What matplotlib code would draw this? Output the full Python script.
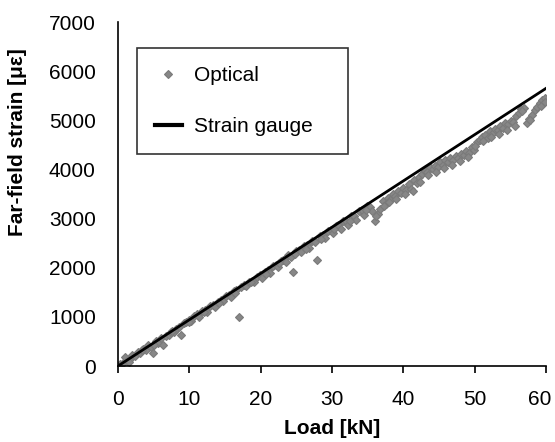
import matplotlib
matplotlib.use('Agg')
import matplotlib.pyplot as plt
from matplotlib.transforms import ScaledTranslation

plt.rcParams['font.family'] = ['Liberation Sans', 'DejaVu Sans']

optical_load = [
    0.3, 0.7, 1.0, 1.3, 1.7, 2.0, 2.4, 2.8, 3.1, 3.5, 3.9, 4.2, 4.6, 4.9, 5.3,
    5.6, 6.0, 6.3, 6.7, 7.1, 7.4, 7.8, 8.2, 8.5, 8.9, 9.2, 9.6, 10.0, 10.3, 10.7,
    11.1, 11.4, 11.8, 12.2, 12.5, 12.9, 13.3, 13.6, 14.0, 14.4, 14.7, 15.1, 15.5,
    15.8, 16.2, 16.6, 16.9, 17.3, 17.7, 18.0, 18.4, 18.8, 19.1, 19.5, 19.9, 20.2,
    20.6, 21.0, 21.3, 21.7, 22.1, 22.4, 22.8, 23.2, 23.5, 23.9, 24.3, 24.6, 25.0,
    25.4, 25.7, 26.1, 26.5, 26.8, 27.2, 27.6, 27.9, 28.3, 28.7, 29.0, 29.4, 29.8,
    30.1, 30.5, 30.9, 31.2, 31.6, 32.0, 32.3, 32.7, 33.1, 33.4, 33.8, 34.2, 34.5,
    34.9, 35.3, 35.6, 36.0, 36.4, 36.7, 37.1, 37.5, 37.8, 38.2, 38.6, 38.9, 39.3,
    39.7, 40.0, 40.4, 40.8, 41.1, 41.5, 41.9, 42.2, 42.6, 43.0, 43.3, 43.7, 44.1,
    44.4, 44.8, 45.2, 45.5, 45.9, 46.3, 46.6, 47.0, 47.4, 47.7, 48.1, 48.5, 48.8,
    49.2, 49.6, 49.9, 50.3, 50.7, 51.0, 51.4, 51.8, 52.1, 52.5, 52.9, 53.2, 53.6,
    54.0, 54.3, 54.7, 55.1, 55.4, 55.8, 56.2, 56.5, 56.9, 57.3, 57.6, 58.0, 58.4,
    58.7, 59.1, 59.5, 59.8,
    1.5, 3.3, 5.0, 7.6, 9.9, 12.0, 14.2, 16.4, 18.6, 20.8, 22.6, 24.8, 26.3,
    28.5, 30.3, 32.5, 34.7, 36.2, 37.3, 38.0, 39.0, 40.2, 41.3, 42.4, 43.5, 44.6,
    45.7, 46.8, 47.9, 49.0, 50.1, 51.2, 52.3, 53.4, 54.5, 55.6, 56.7, 57.8, 59.3,
    59.9,
]
optical_strain = [
    40, 60, 190, 110, 150, 230, 200, 290, 260, 340, 320, 420, 380, 270, 500,
    460, 560, 430, 610, 640, 700, 690, 760, 790, 640, 870, 890, 940, 920, 1010,
    1050, 1000, 1110, 1140, 1100, 1220, 1240, 1200, 1310, 1350, 1330, 1420, 1440,
    1400, 1520, 1550, 1000, 1600, 1640, 1620, 1710, 1740, 1700, 1820, 1850, 1790,
    1920, 1960, 1900, 2030, 2060, 2010, 2140, 2160, 2120, 2250, 2220, 1910, 2340,
    2370, 2310, 2440, 2470, 2400, 2540, 2520, 2160, 2640, 2660, 2600, 2740, 2760,
    2700, 2840, 2870, 2780, 2950, 2960, 2870, 3050, 3060, 2980, 3150, 3170, 3080,
    3250, 3230, 3150, 2950, 3100, 3200, 3350, 3300, 3420, 3380, 3500, 3450, 3560,
    3520, 3630, 3580, 3700, 3600, 3780, 3720, 3850, 3900, 3960, 3940, 4050, 4000,
    4080, 4040, 4150, 4100, 4200, 4150, 4230, 4190, 4280, 4240, 4320, 4290, 4380,
    4340, 4450, 4400, 4560, 4600, 4660, 4700, 4650, 4780, 4740, 4830, 4800, 4880,
    4850, 4950, 4920, 4990, 4960, 5080, 5150, 5220, 5260, 4950, 5030, 5100, 5200,
    5280, 5350, 5420, 5460,
    90, 330, 420, 720, 900, 1090, 1280, 1480, 1700, 1880, 2090, 2280, 2380,
    2580, 2780, 2960, 3180, 3050, 3250, 3330, 3400, 3500, 3560, 3750, 3880, 3950,
    4020, 4100, 4180, 4250, 4480, 4580, 4660, 4720, 4800, 4880, 5180, 5000, 5300,
    5380,
]

# Strain gauge reading (straight line)
gauge_load = [0, 60]
gauge_strain = [0, 5650]

x_ticks = [0, 10, 20, 30, 40, 50, 60]
y_ticks = [0, 1000, 2000, 3000, 4000, 5000, 6000, 7000]

fig = plt.figure(figsize=(5.55, 4.42), dpi=100)
ax = fig.add_axes([0.2126, 0.1719, 0.7712, 0.7783])

ax.plot(optical_load, optical_strain, linestyle='none', marker='D',
        markersize=4.3, color='#878787', markeredgewidth=0.8,
        markeredgecolor='#7a7a7a', label='Optical', zorder=2)
ax.plot(gauge_load, gauge_strain, color='black', linewidth=2.0,
        label='Strain gauge', zorder=3)

ax.set_xlim(0, 60)
ax.set_ylim(0, 7000)
ax.set_xticks(x_ticks)
ax.set_yticks(y_ticks)

for s in ['top', 'right']:
    ax.spines[s].set_visible(False)
for s in ['left', 'bottom']:
    ax.spines[s].set_linewidth(1.2)

ax.tick_params(axis='x', direction='out', length=5, width=1.2, pad=12, labelsize=15)
ax.tick_params(axis='y', length=0, pad=16, labelsize=15)

# the last x label sits a little left so it stays inside the picture
last = ax.get_xticklabels()[-1]
last.set_transform(last.get_transform() + ScaledTranslation(-6/100, 0, fig.dpi_scale_trans))

ax.set_xlabel('Load [kN]', fontsize=15, fontweight='bold')
ax.set_ylabel('Far-field strain [\u03bc\u03b5]', fontsize=15, fontweight='bold')
ax.xaxis.set_label_coords(0.5, -0.155)
ax.yaxis.set_label_coords(-0.213, 0.65)

leg = ax.legend(loc='upper left', bbox_to_anchor=(0.044, 0.613, 0.493, 0.311),
                mode='expand', borderaxespad=0, fontsize=15, frameon=True,
                fancybox=False, edgecolor='black', handlelength=1.3,
                handletextpad=0.6, labelspacing=1.55, borderpad=0.85,
                markerscale=0.9)
leg.get_frame().set_linewidth(1.2)
leg.get_lines()[1].set_linewidth(3.0)

plt.savefig('out.png', dpi=100)
